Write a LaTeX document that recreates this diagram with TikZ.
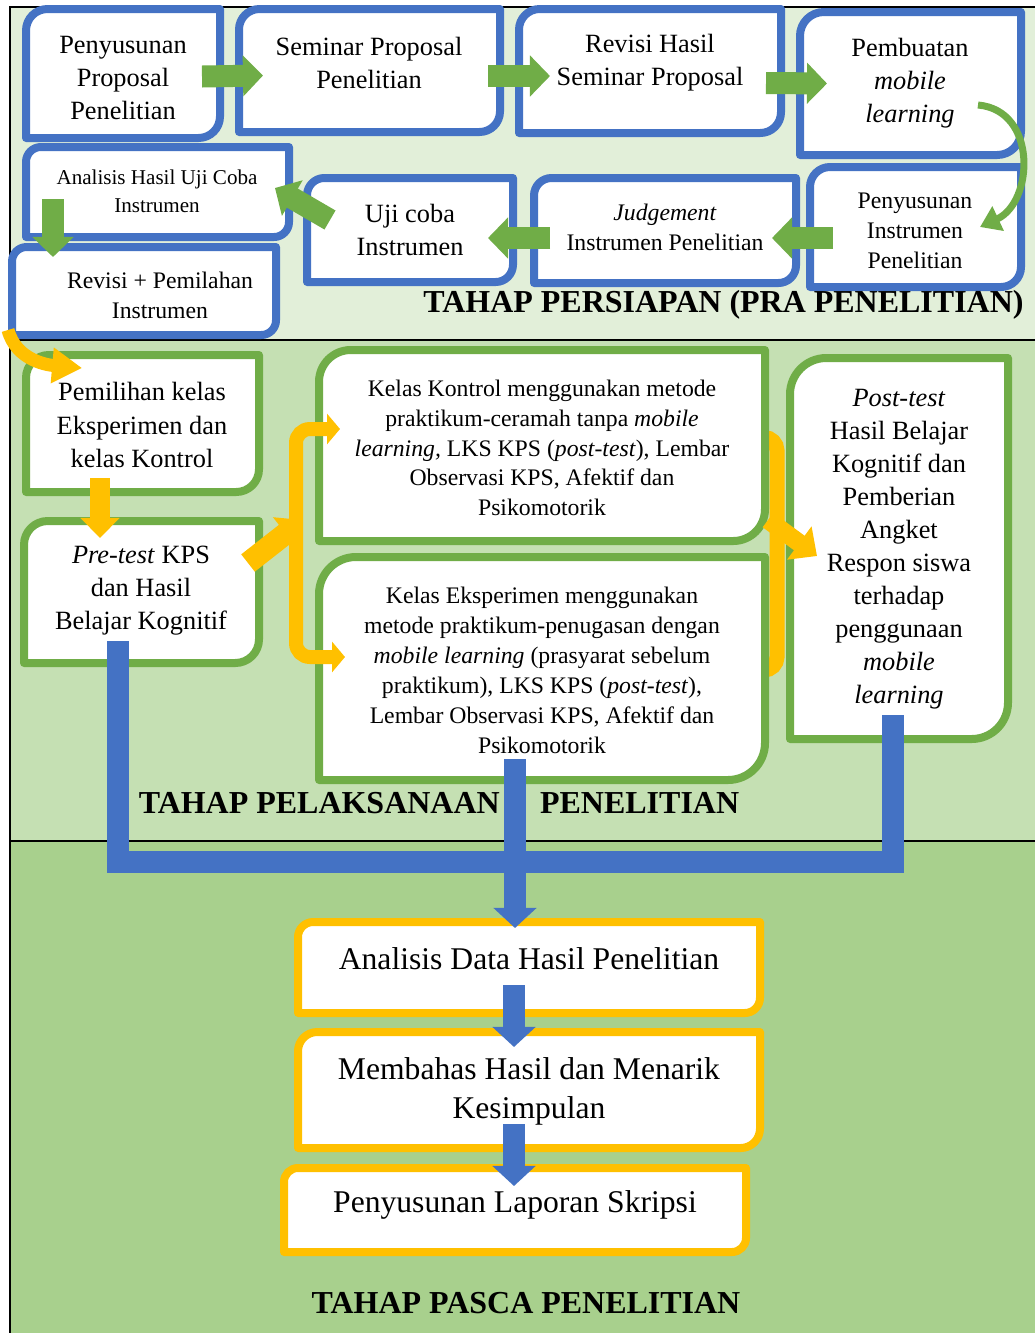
\documentclass[tikz,border=0pt]{standalone}
\usepackage{fontspec}
\setmainfont{Liberation Serif}
\usetikzlibrary{arrows.meta,calc,fit}

\definecolor{biru}{HTML}{4472C4}
\definecolor{hijau}{HTML}{70AD47}
\definecolor{kuning}{HTML}{FFC000}
\definecolor{latarA}{HTML}{E2EFD9}
\definecolor{latarB}{HTML}{C5E0B3}
\definecolor{latarC}{HTML}{A8D08D}

\newlength{\upx}\setlength{\upx}{0.02cm}

% bingkai sudut diagonal membulat: warna, node, jari-jari
\newcommand{\bingkai}[3]{%
  \filldraw[fill=white,draw=#1,line width=8\upx,line join=round]
    ([yshift=-#3\upx]#2.north west) arc[start angle=180,end angle=90,radius=#3\upx]
    -- (#2.north east) -- ([yshift=#3\upx]#2.south east)
    arc[start angle=0,end angle=-90,radius=#3\upx] -- (#2.south west) -- cycle;}

\begin{document}
\begin{tikzpicture}[x=0.02cm,y=0.02cm,
  every node/.style={align=center,inner sep=0pt},
  kotak/.style={outer sep=0pt},
  f12/.style={font=\fontsize{12}{16}\selectfont},
  f135/.style={font=\fontsize{13.5}{17}\selectfont},
  f15/.style={font=\fontsize{15}{18.8}\selectfont},
  f18/.style={font=\fontsize{18}{22.2}\selectfont},
  judul/.style={font=\fontsize{18.2}{22}\selectfont\bfseries},
  ghijau/.style={draw=hijau,line width=22\upx,-{Triangle[length=11.4pt,width=22.8pt]}},
  gkurva/.style={draw=hijau,line width=7\upx,-{Triangle[length=11.4pt,width=14.8pt]}},
  kpanah/.style={draw=kuning,line width=20\upx,-{Triangle[length=11.4pt,width=21.6pt]}},
  kkurva/.style={draw=kuning,line width=13\upx,-{Triangle[length=17pt,width=19.3pt]}},
  kbrak/.style={draw=kuning,line width=14\upx,rounded corners=14\upx},
  bbatang/.style={draw=biru,line width=22\upx,line join=miter},
  bpanah/.style={draw=biru,line width=22\upx,-{Triangle[length=11.4pt,width=23.9pt]}}]

\useasboundingbox (0,0) rectangle (1035,-1333);

% latar tiga tahap
\fill[latarA] (10,-7) rectangle (1035,-340);
\fill[latarB] (10,-340) rectangle (1035,-841);
\fill[latarC] (10,-841) rectangle (1035,-1333);
\draw[line width=2.5\upx] (1035,-7) -- (10,-7) -- (10,-1333);
\draw[line width=2.5\upx] (10,-340) -- (1035,-340);
\draw[line width=2.5\upx] (10,-841) -- (1035,-841);

% tahap persiapan
\node[kotak,fit={(26,-9) (220,-138)}] (propo) {};
\bingkai{biru}{propo}{21.5}
\node[kotak,fit={(239,-9) (500,-132)}] (semi) {};
\bingkai{biru}{semi}{20.5}
\node[kotak,fit={(519,-9) (781,-133)}] (revhas) {};
\bingkai{biru}{revhas}{20.7}
\node[kotak,fit={(800,-12) (1021,-155)}] (mobile) {};
\bingkai{biru}{mobile}{23.8}
\node[kotak,fit={(26,-147) (289,-237)}] (analuji) {};
\bingkai{biru}{analuji}{15}
\node[kotak,fit={(12,-247) (276,-335)}] (revpil) {};
\bingkai{biru}{revpil}{14.7}
\node[kotak,fit={(307,-178) (513,-282)}] (ujicoba) {};
\bingkai{biru}{ujicoba}{17.3}
\node[kotak,fit={(534,-178) (796,-283)}] (judge) {};
\bingkai{biru}{judge}{17.5}
\node[kotak,fit={(810,-167) (1021,-287)}] (susins) {};
\bingkai{biru}{susins}{20}

\node[f15] (propo-t) at (123,-78) {Penyusunan\\Proposal\\Penelitian};
\node[f15] (semi-t) at (369,-63) {Seminar Proposal\\Penelitian};
\node[f15] (revhas-t) at (650,-63) {Revisi Hasil\\Seminar Proposal};
\node[f15] (mobile-t) at (910,-83) {Pembuatan\\\textit{mobile}\\\textit{learning}};
\node[f12] (analuji-t) at (157,-191) {Analisis Hasil Uji Coba\\Instrumen};
\node[f135] (revpil-t) at (160,-295) {Revisi + Pemilahan\\Instrumen};
\node[f15] (ujicoba-t) at (410,-230) {Uji coba\\Instrumen};
\node[f135] (judge-t) at (665,-227) {\textit{Judgement}\\Instrumen Penelitian};
\node[f135] (susins-t) at (915,-231) {Penyusunan\\Instrumen\\Penelitian};
\node[judul] (tahap1) at (723.5,-305) {TAHAP PERSIAPAN (PRA PENELITIAN)};

% tahap pelaksanaan
\draw[kuning,line width=15\upx,rounded corners=13\upx]
  (760,-437.5) -- ++(17,0) |- (760,-670);
\node[kotak,fit={(26,-355) (259,-492)}] (pilih) {};
\bingkai{hijau}{pilih}{22.8}
\node[kotak,fit={(24,-521) (259,-663)}] (pretest) {};
\bingkai{hijau}{pretest}{23.7}
\node[kotak,fit={(319,-350) (765,-541)}] (kontrol) {};
\bingkai{hijau}{kontrol}{31.8}
\node[kotak,fit={(319,-557) (765,-780)}] (eksp) {};
\bingkai{hijau}{eksp}{37}
\node[kotak,fit={(790,-358) (1008,-739)}] (posttest) {};
\bingkai{hijau}{posttest}{36.3}

\node[f15] (pilih-t) at (142,-425) {Pemilihan kelas\\Eksperimen dan\\kelas Kontrol};
\node[f15] (pretest-t) at (141,-591) {\textit{Pre-test} KPS\\dan Hasil\\Belajar Kognitif};
\node[f135] (kontrol-t) at (542,-448) {Kelas Kontrol menggunakan metode\\praktikum-ceramah tanpa \textit{mobile}\\\textit{learning,} LKS KPS (\textit{post-test}), Lembar\\Observasi KPS, Afektif dan\\Psikomotorik};
\node[f135] (eksp-t) at (542,-670.5) {Kelas Eksperimen menggunakan\\metode praktikum-penugasan dengan\\\textit{mobile learning} (prasyarat sebelum\\praktikum), LKS KPS (\textit{post-test}),\\Lembar Observasi KPS, Afektif dan\\Psikomotorik};
\node[f15] (posttest-t) at (899,-549.5) {\textit{Post-test}\\Hasil Belajar\\Kognitif dan\\Pemberian\\Angket\\Respon siswa\\terhadap\\penggunaan\\\textit{mobile}\\\textit{learning}};
\node[judul] (tahap2) at (439,-803) {TAHAP PELAKSANAAN\hspace{23pt}PENELITIAN};

% tahap pasca
\node[kotak,fit={(298,-922) (760,-1013)}] (anadata) {};
\bingkai{kuning}{anadata}{15.2}
\node[kotak,fit={(298,-1032) (760,-1148)}] (bahas) {};
\bingkai{kuning}{bahas}{19.3}
\node[kotak,fit={(284,-1168) (746,-1252)}] (lapor) {};
\bingkai{kuning}{lapor}{14}

\node[f18] (anadata-t) at (529,-959) {Analisis Data Hasil Penelitian};
\node[f18] (bahas-t) at (529,-1091) {Membahas Hasil dan Menarik\\Kesimpulan};
\node[f18] (lapor-t) at (515,-1205) {Penyusunan Laporan Skripsi};
\node[judul] (tahap3) at (526,-1303) {TAHAP PASCA PENELITIAN};

% panah hijau
\draw[ghijau] ($(propo.east)+(-18,-3)$) -- ($(semi.west)+(24,-5)$);
\draw[ghijau] ($(semi.east)+(-12,-5.5)$) -- ($(revhas.west)+(31,-5)$);
\draw[ghijau] ($(revhas.east)+(-15,-12)$) -- ($(mobile.west)+(27,0)$);
\draw[gkurva] ($(mobile.east)+(-43,-21.5)$) to[out=-5,in=25,looseness=1.25] ($(susins.east)+(-41,0)$);
\draw[ghijau] ($(susins.west)+(23,-11)$) -- ($(judge.east)+(-24,-7.5)$);
\draw[ghijau] ($(judge.west)+(16,-7.5)$) -- ($(ujicoba.east)+(-25,-8)$);
\draw[ghijau] ($(ujicoba.west)+(23,10)$) -- ($(analuji.east)+(-14,4)$);
\draw[ghijau] ($(analuji.south west)+(27,38)$) -- ($(revpil.north west)+(41,-10)$);

% panah kuning
\draw[kkurva] ($(revpil.south west)+(-4,5)$) to[out=-75,in=175] ($(pilih.north west)+(56,-13)$);
\draw[kpanah] ($(pilih.south west)+(74,14)$) -- ($(pretest.north west)+(76,-17)$);
\draw[kpanah,line width=22\upx,-{Triangle[length=12.5pt,width=22.8pt]}]
  ($(pretest.east)+(-11,29)$) -- ($(kontrol.south west)+(-16,21)$);
\draw[kbrak,{Triangle[length=7.4pt,width=17.1pt]}-{Triangle[length=7.4pt,width=17.1pt]}]
  ($(kontrol.west)+(21,16.5)$) -- ++(-44,0) |- ($(eksp.west)+(26,11.5)$);
\draw[kpanah,line width=18\upx,-{Triangle[length=12.5pt,width=22.8pt]}]
  ($(kontrol.south east)+(3,21)$) -- ($(posttest.west)+(27,-7.5)$);

% batang dan panah biru
\draw[bbatang] ($(pretest.south)+(-23.5,22)$) -- ++(0,-221) -| ($(posttest.south)+(-6,24)$);
\draw[bpanah] ($(eksp.south)+(-27,21)$) -- ($(anadata.north)+(-14,-6)$);
\draw[bpanah] ($(anadata.south)+(-15,28)$) -- ($(bahas.north)+(-15,-15)$);
\draw[bpanah] ($(bahas.south)+(-15,24)$) -- ($(lapor.north)+(-1,-18)$);

\end{tikzpicture}
\end{document}
